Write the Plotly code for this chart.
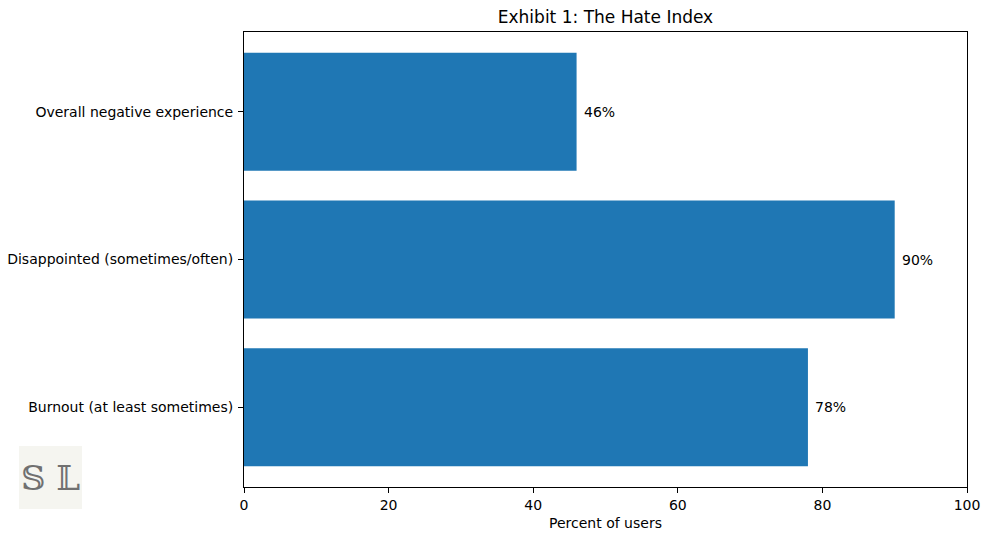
import plotly.graph_objects as go

categories = ["Burnout (at least sometimes)", "Disappointed (sometimes/often)", "Overall negative experience"]
values = [78, 90, 46]
labels = ["78%", "90%", "46%"]
x_ticks = [0, 20, 40, 60, 80, 100]

W, H = 989, 540
L, T = 244, 32
pw, ph = 723, 455
R = W - L - pw
B = H - T - ph

def px(x):
    return (x - L) / pw

def py(y):
    return (T + ph - y) / ph

font = "DejaVu Sans, sans-serif"

fig = go.Figure()
fig.add_trace(go.Bar(
    y=list(range(len(categories))), x=values, orientation="h",
    marker=dict(color="#1f77b4", line=dict(width=0)), width=0.8,
    hoverinfo="skip",
))
for i, (v, t) in enumerate(zip(values, labels)):
    fig.add_annotation(x=v, y=i, xref="x", yref="y", text=t, showarrow=False,
                       xanchor="left", yanchor="middle", xshift=5,
                       font=dict(size=14, color="black", family=font))

fig.update_layout(
    width=W, height=H,
    margin=dict(l=L, r=R, t=T, b=B, autoexpand=False),
    paper_bgcolor="white", plot_bgcolor="white",
    font=dict(family=font, size=14, color="black"),
    showlegend=False,
    title=dict(text="Exhibit 1: The Hate Index", xref="container", x=605.5 / W, xanchor="center",
               yref="container", y=1 - 17 / H, yanchor="middle",
               font=dict(size=17, color="black", family=font)),
    xaxis=dict(range=[0, 100], tickvals=x_ticks, ticktext=[str(v) for v in x_ticks],
               ticks="outside", ticklen=5, tickwidth=1, tickcolor="black",
               showline=True, linecolor="black", linewidth=1, mirror=True,
               showgrid=False, zeroline=False, automargin=False,
               title=dict(text="Percent of users", font=dict(size=14), standoff=6),
               tickfont=dict(size=14)),
    yaxis=dict(range=[-0.54, 2.54], tickvals=list(range(len(categories))), ticktext=categories,
               ticks="outside", ticklen=5, tickwidth=1, tickcolor="black",
               ticklabelstandoff=2, automargin=False,
               showline=True, linecolor="black", linewidth=1, mirror=True,
               showgrid=False, zeroline=False, tickfont=dict(size=14)),
)

fig.add_shape(type="rect", xref="paper", yref="paper",
              x0=px(19), x1=px(82), y0=py(509), y1=py(446),
              fillcolor="#f5f5f0", line=dict(width=0), layer="below")
fig.add_annotation(xref="paper", yref="paper", x=px(50.5), y=py(477.5),
                   text="𝕊 𝕃", showarrow=False, xanchor="center", yanchor="middle",
                   font=dict(size=34, color="#707070", family="DejaVu Serif, serif"))

fig.write_html("out.html", config={"displayModeBar": False},
               post_script="document.body.style.margin='0';")
